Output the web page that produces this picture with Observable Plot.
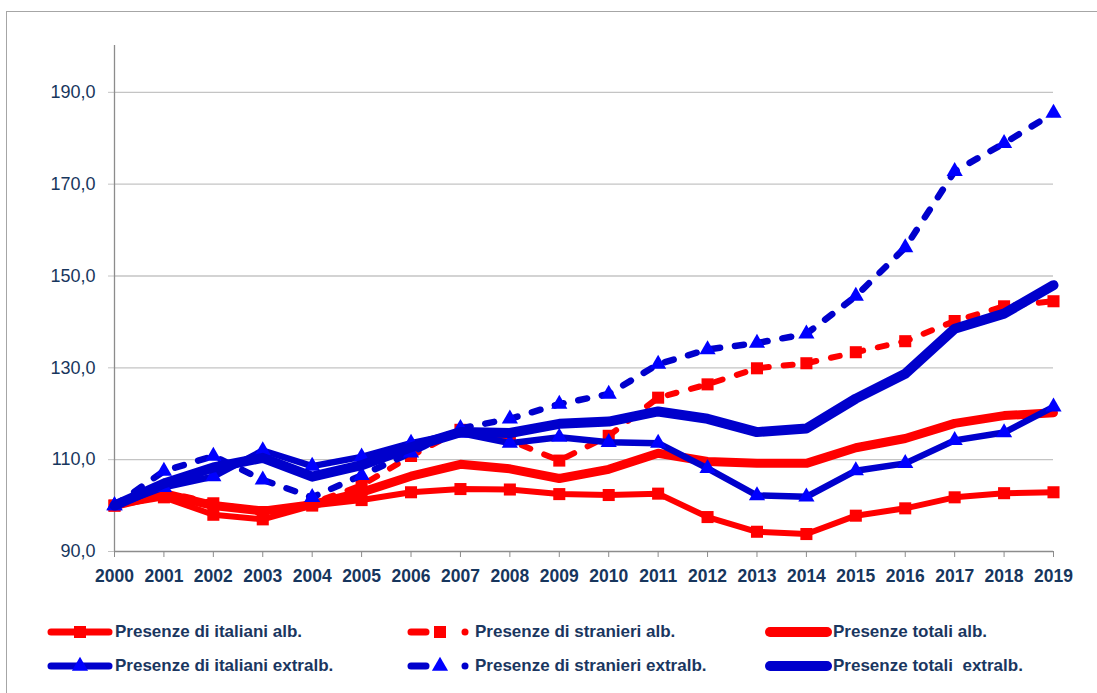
<!DOCTYPE html>
<html>
<head>
<meta charset="utf-8">
<script src="https://cdn.jsdelivr.net/npm/d3@7"></script>
<script src="https://cdn.jsdelivr.net/npm/@observablehq/plot@0.6"></script>
<style>
  body { margin:0; background:#fff; width:1097px; height:693px; overflow:hidden; position:relative; font-family:"Liberation Sans", Arial, sans-serif; }
  #frame { position:absolute; left:6px; top:11px; width:1200px; height:800px; border:1.5px solid #a6a6a6; }
  #chart { position:absolute; left:0; top:0; }
  .leg { position:absolute; height:24px; display:flex; align-items:center; font-family:"Liberation Sans", Arial, sans-serif; font-weight:bold; font-size:17px; color:#1a3660; white-space:pre; }
  .leg svg { position:absolute; left:0; top:2px; }
</style>
</head>
<body>
<div id="frame"></div>
<div id="chart"></div>
<div id="legend"></div>
<script>
// ---- data ----
const years = [2000,2001,2002,2003,2004,2005,2006,2007,2008,2009,2010,2011,2012,2013,2014,2015,2016,2017,2018,2019];
const seriesNames = [
  "Presenze di italiani alb.",
  "Presenze di stranieri alb.",
  "Presenze totali alb.",
  "Presenze di italiani extralb.",
  "Presenze di stranieri extralb.",
  "Presenze totali  extralb."
];
const italianiAlb      = [100, 101.8, 98.0, 97.0, 100.0, 101.2, 102.9, 103.6, 103.5, 102.5, 102.3, 102.6, 97.5, 94.3, 93.8, 97.8, 99.4, 101.8, 102.7, 102.9];
const stranieriAlb     = [100, 103.0, 100.5, 98.6, 100.5, 104.4, 110.8, 116.5, 114.2, 109.8, 115.2, 123.5, 126.4, 129.9, 131.0, 133.4, 135.8, 140.2, 143.4, 144.5];
const totaliAlb        = [100, 102.6, 100.0, 98.8, 100.2, 102.9, 106.4, 109.0, 108.0, 105.9, 107.9, 111.4, 109.6, 109.2, 109.2, 112.6, 114.6, 117.9, 119.6, 120.2];
const italianiExtralb  = [100, 104.0, 106.3, 112.0, 108.6, 110.6, 113.6, 115.8, 113.6, 114.9, 113.8, 113.6, 108.1, 102.2, 101.9, 107.6, 109.2, 114.2, 115.9, 121.5];
const stranieriExtralb = [100, 107.5, 110.8, 105.6, 101.8, 106.6, 111.5, 116.8, 118.9, 122.1, 124.3, 130.8, 134.0, 135.4, 137.4, 145.6, 156.2, 172.8, 178.9, 185.5];
const totaliExtralb    = [100, 104.8, 108.3, 110.4, 106.3, 108.8, 112.7, 116.0, 115.8, 117.8, 118.3, 120.5, 118.9, 116.0, 116.8, 123.3, 128.7, 138.5, 141.8, 148.0];
const yTicks = [90, 110, 130, 150, 170, 190];

const seriesValues = [italianiAlb, stranieriAlb, totaliAlb, italianiExtralb, stranieriExtralb, totaliExtralb];

// ---- styles ----
const RED = "#ff0000", BLUE_LINE = "#0000cc", BLUE_MARK = "#0000ff";
const styles = [
  {stroke: RED,       width: 6,   dash: null,   symbol: "square",   r: 6.8, mark: RED},
  {stroke: RED,       width: 6,   dash: "9,15", symbol: "square",   r: 6.8, mark: RED},
  {stroke: RED,       width: 9,   dash: null,   symbol: null},
  {stroke: BLUE_LINE, width: 6.5, dash: null,   symbol: "triangle", r: 6,   mark: BLUE_MARK},
  {stroke: BLUE_LINE, width: 6.5, dash: "9,15", symbol: "triangle", r: 6,   mark: BLUE_MARK},
  {stroke: BLUE_LINE, width: 10,  dash: null,   symbol: null}
];

const rows = seriesNames.flatMap((name, i) => years.map((year, j) => ({series: name, year, value: seriesValues[i][j]})));

const AXIS = "#8c8c8c", GRID = "#c4c4c4", TEXT = "#17365d";

const marks = [
  Plot.ruleY(yTicks.filter(v => v > 90), {x1: years[0], x2: years[years.length - 1], stroke: GRID, strokeWidth: 1.3}),
  Plot.axisY({ticks: yTicks, tickFormat: d => d.toFixed(1).replace(".", ","), tickSize: 6, tickPadding: 13, label: null,
              stroke: GRID, fill: TEXT, fontSize: 18, fontFamily: "Liberation Sans, Arial, sans-serif"}),
  Plot.axisX({ticks: years, tickFormat: d => String(d), tickSize: 6, tickPadding: 12, label: null,
              stroke: AXIS, fill: TEXT, fontSize: 17.5, fontWeight: "bold", fontFamily: "Liberation Sans, Arial, sans-serif"}),
  Plot.ruleX([years[0]], {y1: 90, y2: 200.2, stroke: AXIS, strokeWidth: 1.3}),
  Plot.ruleY([90], {x1: years[0], x2: years[years.length - 1], stroke: AXIS, strokeWidth: 1.3})
];

seriesNames.forEach((name, i) => {
  const s = styles[i];
  const d = rows.filter(r => r.series === name);
  marks.push(Plot.line(d, {x: "year", y: "value", stroke: s.stroke, strokeWidth: s.width,
    strokeDasharray: s.dash || undefined, strokeLinecap: "round", strokeLinejoin: "round"}));
  if (s.symbol) {
    marks.push(Plot.dot(d, {x: "year", y: "value", symbol: s.symbol, r: s.r, fill: s.mark, stroke: "none"}));
  }
});

const chart = Plot.plot({
  width: 1097, height: 600,
  marginLeft: 114, marginRight: 44, marginTop: 45, marginBottom: 49,
  x: {domain: [years[0], years[years.length - 1]], label: null},
  y: {domain: [90, 200.2], label: null},
  style: {background: "transparent", overflow: "visible"},
  marks
});
document.getElementById("chart").appendChild(chart);

// ---- legend ----
const legendCols = [47, 407, 765];
const legendRows = [632, 666];
const legend = document.getElementById("legend");
seriesNames.forEach((name, i) => {
  const s = styles[i];
  const col = i % 3, row = Math.floor(i / 3);
  const div = document.createElement("div");
  div.className = "leg";
  div.style.left = legendCols[col] + "px";
  div.style.top = (legendRows[row] - 12) + "px";
  const ns = "http://www.w3.org/2000/svg";
  const svg = document.createElementNS(ns, "svg");
  svg.setAttribute("width", 68); svg.setAttribute("height", 20);
  const line = (x1, x2, w) => {
    const l = document.createElementNS(ns, "line");
    l.setAttribute("x1", x1); l.setAttribute("x2", x2); l.setAttribute("y1", 10); l.setAttribute("y2", 10);
    l.setAttribute("stroke", s.stroke); l.setAttribute("stroke-width", w); l.setAttribute("stroke-linecap", "round");
    svg.appendChild(l);
  };
  const marker = (cx) => {
    const p = document.createElementNS(ns, "path");
    const sym = s.symbol === "square" ? d3.symbolSquare : d3.symbolTriangle;
    p.setAttribute("d", d3.symbol(sym, Math.PI * s.r * s.r)());
    p.setAttribute("transform", `translate(${cx},10)`);
    p.setAttribute("fill", s.mark);
    svg.appendChild(p);
  };
  if (!s.symbol) {
    line(5, 62, 10);
  } else if (!s.dash) {
    line(4, 62, 7);
    marker(33);
  } else {
    line(4, 19, 7);
    marker(33);
    const c = document.createElementNS(ns, "circle");
    c.setAttribute("cx", 58); c.setAttribute("cy", 10); c.setAttribute("r", 3.5); c.setAttribute("fill", s.stroke);
    svg.appendChild(c);
  }
  div.appendChild(svg);
  const t = document.createElement("span");
  t.style.marginLeft = "68px";
  t.textContent = name;
  div.appendChild(t);
  legend.appendChild(div);
});
</script>
</body>
</html>
